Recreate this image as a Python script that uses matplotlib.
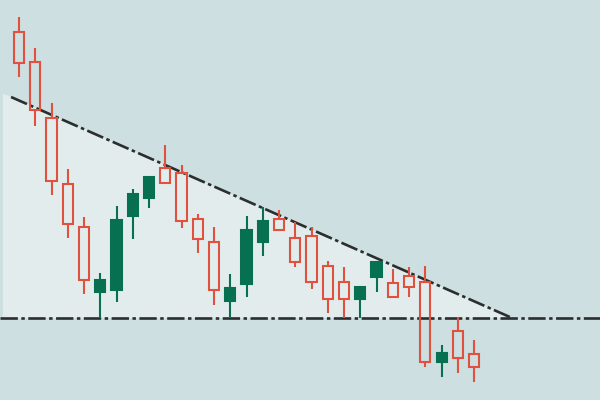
import matplotlib
matplotlib.use("Agg")
import matplotlib.pyplot as plt
import numpy as np

# OHLC values (chart units)
opens  = [368, 338, 282, 216, 173, 108, 110, 184, 202, 232, 227, 181, 158, 99, 116, 158,
          181, 162, 164, 134, 118, 101, 123, 117, 124, 118, 38, 69, 46]
highs  = [383, 352, 297, 231, 183, 127, 194, 211, 223, 255, 235, 186, 173, 126, 184, 193,
          190, 178, 173, 139, 133, 113, 138, 131, 133, 134, 55, 83, 60]
lows   = [323, 274, 205, 162, 106, 82, 98, 161, 192, 217, 172, 147, 95, 82, 103, 144,
          170, 133, 111, 87, 82, 82, 108, 103, 103, 33, 23, 27, 18]
closes = [337, 290, 219, 176, 120, 120, 180, 206, 223, 217, 179, 161, 110, 112, 170, 179,
          170, 138, 118, 101, 101, 113, 138, 103, 113, 38, 47, 42, 33]

support = 82
trend_start = (-0.49, 303)
trend_end = (30.34, 82)

BG = "#cddfe0"
FILL = "#e2ecec"
RED = "#e0523f"
GREEN = "#077050"
LINE = "#2a2e2e"

plt.rcParams["lines.scale_dashes"] = False
fig = plt.figure(figsize=(6, 4), dpi=100, facecolor=BG)
ax = fig.add_axes([0, 0, 1, 1])
ax.set_facecolor(BG)
ax.set_xlim(-1.169, 35.75)
ax.set_ylim(0, 400)
ax.axis("off")

# triangle fill
slope = (trend_end[1] - trend_start[1]) / (trend_end[0] - trend_start[0])
x_left = -0.985
y_left = trend_start[1] + slope * (x_left - trend_start[0])
ax.fill([x_left, trend_end[0], x_left], [y_left, support, support], color=FILL, lw=0, zorder=0)

dash = (0, (12.5, 2.5, 2.5, 2.5))
ax.plot([trend_start[0], trend_end[0]], [trend_start[1], trend_end[1]], color=LINE, lw=1.9,
        linestyle=dash, zorder=1)
ax.plot([-1.169, 35.75], [support, support], color=LINE, lw=1.9, linestyle=dash, zorder=1)

x = np.arange(len(opens))
w = 0.62
for i in range(len(opens)):
    o, h, l, c = opens[i], highs[i], lows[i], closes[i]
    top, bot = max(o, c), min(o, c)
    col = GREEN if c > o else RED
    ax.vlines(x[i], top, h, color=col, lw=1.5, zorder=2)
    ax.vlines(x[i], l, bot, color=col, lw=1.5, zorder=2)
    if c > o:
        ax.bar(x[i], top - bot, bottom=bot, width=w, facecolor=GREEN, edgecolor=GREEN,
               linewidth=1.5, zorder=3)
    else:
        ax.bar(x[i], top - bot, bottom=bot, width=w, facecolor="none", edgecolor=RED,
               linewidth=1.5, zorder=3)

fig.savefig("out.png", dpi=100, facecolor=BG)
